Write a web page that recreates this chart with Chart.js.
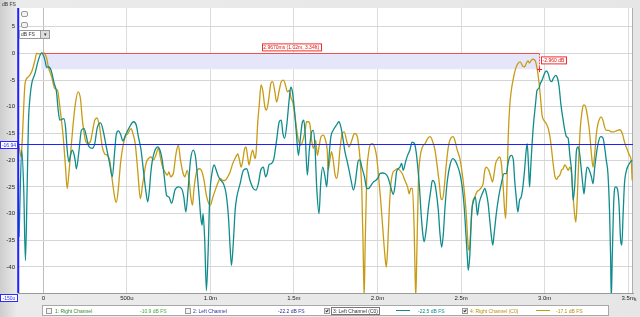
<!DOCTYPE html>
<html>
<head>
<meta charset="UTF-8" />
<title>Impulse Response</title>
<script src="https://cdn.jsdelivr.net/npm/chart.js"></script>
<style>
  body { margin: 0; background: #e0e0e0; font-family: 'Liberation Sans', sans-serif; }
  #wrap { position: relative; width: 640px; height: 317px; overflow: hidden;
          background: linear-gradient(to right, #cdcdcd 0, #ebebeb 17px, #e6e6e6 100%); }
  #wrap canvas { position: absolute; left: 0; top: 0; }
  .abs { position: absolute; white-space: nowrap; font-size: 5px; line-height: 6px; }
  .box { background: #fff; border: 1px solid #2b2bff; color: #2b2bff; text-align: center; }
  #legend { position: absolute; left: 42px; top: 305px; width: 565px; height: 9px;
            background: #fff; border: 1px solid #a8a8a8; }
  .chk { position: absolute; top: 2px; width: 4px; height: 4px; border: 1px solid #999; background: #f4f4f4; }
  .chk.on::after { content: ''; position: absolute; left: 1px; top: 0; width: 1px; height: 2px;
                   border: solid #333; border-width: 0 1px 1px 0; transform: rotate(40deg); }
  .swatch { position: absolute; top: 4px; width: 14px; height: 1px; }
  .icon { position: absolute; width: 5px; height: 4px; border: 1px solid #999; border-radius: 2px; background: #f2f2f2; }
</style>
</head>
<body>
<div id="wrap">
  <canvas id="irChart" width="640" height="317"></canvas>

  <div class="abs" style="left:2px;top:1px;color:#333">dB FS</div>
  <div class="icon" style="left:21px;top:11px"></div>
  <div class="icon" style="left:21px;top:22px"></div>
  <div class="abs" style="left:19px;top:30px;width:20px;height:7px;background:#fff;border:1px solid #999;color:#333;padding-left:1px;line-height:7px">dB FS</div>
  <div class="abs" style="left:40px;top:30px;width:8px;height:7px;background:#ddd;border:1px solid #999;color:#333;text-align:center;line-height:7px">&#9662;</div>

  <div class="abs box" style="left:0;top:141px;width:16px;height:6px">-16.94</div>
  <div class="abs box" style="left:0;top:294px;width:16px;height:6px">-150u</div>
  <div class="abs" style="left:634px;top:296px;color:#333">s</div>

  <div id="legend">
    <div class="chk" style="left:3px"></div>
    <div class="abs" style="left:12px;top:2px;color:#2e8b2e">1: Right Channel</div>
    <div class="abs" style="left:97px;top:2px;color:#44aa44">-10.9 dB FS</div>
    <div class="chk" style="left:142px"></div>
    <div class="abs" style="left:150px;top:2px;color:#3030a0">2: Left Channel</div>
    <div class="abs" style="left:235px;top:2px;color:#3030a0">-22.2 dB FS</div>
    <div class="chk on" style="left:281px"></div>
    <div class="abs" style="left:288px;top:1px;border:1px solid #777;padding:0 1px;color:#333">3: Left Channel (C0)</div>
    <div class="swatch" style="left:353px;background:#108c8c"></div>
    <div class="abs" style="left:375px;top:2px;color:#108c8c">-22.5 dB FS</div>
    <div class="chk on" style="left:419px"></div>
    <div class="abs" style="left:427px;top:2px;color:#b8900e">4: Right Channel (C0)</div>
    <div class="swatch" style="left:493px;background:#c89b14"></div>
    <div class="abs" style="left:513px;top:2px;color:#b8900e">-17.1 dB FS</div>
  </div>
</div>

<script>
  // time in ms, level in dB FS
  const tealTime = [
    -0.145, -0.129, -0.117, -0.107, -0.097, -0.089, -0.079, -0.069, -0.050, -0.030,
    -0.010, 0.000, 0.010, 0.020, 0.030, 0.046, 0.065, 0.079, 0.089, 0.099,
    0.109, 0.123, 0.133, 0.143, 0.153, 0.163, 0.173, 0.183, 0.192, 0.198,
    0.214, 0.228, 0.244, 0.258, 0.272, 0.292, 0.308, 0.323, 0.343, 0.357,
    0.377, 0.397, 0.413, 0.427, 0.437, 0.450, 0.462, 0.476, 0.492, 0.516,
    0.540, 0.556, 0.569, 0.585, 0.597, 0.613, 0.625, 0.635, 0.643, 0.653,
    0.669, 0.685, 0.698, 0.712, 0.724, 0.738, 0.752, 0.768, 0.788, 0.808,
    0.827, 0.841, 0.853, 0.867, 0.881, 0.897, 0.911, 0.921, 0.933, 0.942,
    0.950, 0.956, 0.966, 0.976, 0.986, 0.996, 1.009, 1.023, 1.035, 1.049,
    1.063, 1.078, 1.094, 1.108, 1.118, 1.126, 1.138, 1.148, 1.158, 1.178,
    1.197, 1.217, 1.237, 1.257, 1.273, 1.287, 1.301, 1.317, 1.330, 1.340,
    1.350, 1.366, 1.380, 1.396, 1.412, 1.424, 1.434, 1.444, 1.457, 1.471,
    1.481, 1.491, 1.501, 1.513, 1.527, 1.537, 1.549, 1.559, 1.567, 1.580,
    1.592, 1.606, 1.616, 1.626, 1.636, 1.650, 1.660, 1.672, 1.686, 1.696,
    1.705, 1.721, 1.735, 1.755, 1.769, 1.781, 1.795, 1.805, 1.817, 1.830,
    1.842, 1.856, 1.866, 1.876, 1.886, 1.896, 1.906, 1.922, 1.936, 1.946,
    1.961, 1.975, 1.989, 2.001, 2.015, 2.029, 2.045, 2.061, 2.074, 2.084,
    2.094, 2.104, 2.114, 2.124, 2.134, 2.144, 2.154, 2.168, 2.180, 2.194,
    2.207, 2.221, 2.231, 2.241, 2.251, 2.261, 2.271, 2.279, 2.291, 2.305,
    2.319, 2.328, 2.340, 2.350, 2.364, 2.374, 2.384, 2.394, 2.404, 2.418,
    2.434, 2.450, 2.463, 2.477, 2.493, 2.507, 2.519, 2.529, 2.539, 2.543,
    2.553, 2.563, 2.576, 2.586, 2.598, 2.608, 2.632, 2.642, 2.652, 2.662,
    2.672, 2.682, 2.690, 2.698, 2.711, 2.725, 2.741, 2.757, 2.771, 2.781,
    2.791, 2.801, 2.813, 2.821, 2.830, 2.840, 2.850, 2.860, 2.870, 2.880,
    2.890, 2.896, 2.904, 2.910, 2.916, 2.924, 2.934, 2.944, 2.955, 2.965,
    2.975, 2.985, 2.999, 3.009, 3.022, 3.032, 3.042, 3.052, 3.066, 3.078,
    3.087, 3.097, 3.111, 3.121, 3.131, 3.141, 3.151, 3.161, 3.171, 3.181,
    3.191, 3.201, 3.210, 3.220, 3.230, 3.236, 3.244, 3.254, 3.264, 3.280,
    3.290, 3.300, 3.310, 3.320, 3.335, 3.349, 3.359, 3.369, 3.379, 3.389,
    3.395, 3.399, 3.405, 3.415, 3.425, 3.435, 3.445, 3.455, 3.462, 3.470,
    3.478, 3.490, 3.502, 3.514, 3.524
  ];
  const tealDb = [
    -34.4, -18.1, -25.6, -38.8, -25.6, -13.1, -8.1, -5.6, -3.8, -1.3,
    0.1, -0.3, -1.3, -2.6, -2.5, -3.1, -5.6, -7.2, -10.6, -12.5,
    -12.4, -12.2, -13.8, -18.1, -20.3, -19.1, -18.1, -18.8, -20.3, -21.6,
    -18.1, -14.4, -14.1, -15.6, -17.4, -17.8, -16.9, -13.9, -13.0, -14.3,
    -17.5, -20.6, -23.1, -18.4, -15.1, -14.5, -15.1, -16.4, -15.3, -13.8,
    -12.8, -13.4, -15.6, -18.1, -21.3, -25.6, -27.8, -25.6, -22.5, -20.0,
    -18.1, -17.5, -18.1, -20.0, -23.1, -26.6, -26.9, -28.1, -25.6, -25.0,
    -25.3, -26.9, -29.7, -25.3, -20.0, -18.1, -19.4, -22.5, -26.9, -30.6,
    -32.2, -30.0, -35.0, -44.4, -37.5, -26.9, -22.5, -20.9, -21.9, -23.1,
    -23.8, -24.4, -26.3, -30.6, -36.3, -39.7, -35.0, -29.4, -26.9, -24.4,
    -21.9, -21.6, -23.8, -25.3, -25.6, -24.4, -21.9, -21.3, -23.1, -22.5,
    -20.9, -20.6, -19.7, -16.3, -12.8, -12.5, -15.0, -15.9, -13.4, -8.8,
    -6.3, -7.2, -10.0, -14.4, -19.1, -16.3, -13.1, -12.5, -15.0, -22.8,
    -18.1, -14.7, -14.4, -17.5, -25.0, -30.0, -24.4, -21.3, -23.1, -25.0,
    -21.3, -15.6, -14.4, -13.4, -12.8, -13.8, -16.3, -18.4, -20.0, -21.9,
    -23.8, -25.6, -24.4, -21.9, -20.0, -20.0, -21.3, -23.1, -25.3, -25.3,
    -24.7, -24.1, -23.8, -23.4, -22.5, -22.4, -22.5, -23.1, -24.4, -25.6,
    -26.4, -25.0, -22.2, -21.6, -21.3, -20.6, -21.9, -20.3, -19.1, -18.1,
    -16.6, -16.9, -18.4, -21.3, -25.0, -30.0, -33.8, -35.3, -33.1, -28.8,
    -25.6, -23.8, -24.1, -25.6, -29.4, -33.8, -36.3, -33.8, -28.8, -23.8,
    -20.9, -19.7, -20.0, -20.9, -22.5, -25.0, -28.8, -33.8, -38.8, -40.6,
    -37.5, -30.0, -27.5, -26.9, -30.3, -28.1, -25.9, -25.3, -26.3, -28.1,
    -31.3, -34.4, -35.9, -33.8, -30.0, -26.9, -24.4, -22.5, -22.5, -20.6,
    -19.4, -19.1, -20.0, -23.8, -26.9, -29.7, -27.5, -26.9, -25.0, -21.9,
    -18.1, -16.9, -21.3, -25.0, -21.9, -17.5, -13.1, -10.0, -6.9, -6.6,
    -5.6, -5.0, -3.8, -3.3, -3.8, -5.0, -5.3, -4.7, -4.1, -4.7,
    -6.3, -9.4, -12.5, -14.4, -15.6, -15.9, -19.1, -21.9, -27.5, -24.4,
    -18.1, -17.5, -18.8, -21.9, -25.0, -26.3, -23.8, -21.3, -21.6, -23.1,
    -24.4, -21.3, -18.8, -16.9, -15.6, -15.8, -17.5, -20.0, -22.5, -30.0,
    -38.1, -46.0, -38.1, -26.9, -25.0, -25.3, -28.1, -35.0, -35.9, -30.0,
    -24.4, -21.9, -20.9, -20.3, -20.0
  ];

  const goldTime = [
    -0.149, -0.141, -0.133, -0.125, -0.119, -0.109, -0.089, -0.069, -0.050, -0.040,
    -0.020, 0.000, 0.010, 0.020, 0.030, 0.050, 0.069, 0.085, 0.099, 0.119,
    0.133, 0.143, 0.153, 0.165, 0.179, 0.192, 0.208, 0.222, 0.234, 0.242,
    0.252, 0.268, 0.284, 0.294, 0.308, 0.321, 0.337, 0.353, 0.367, 0.383,
    0.397, 0.413, 0.427, 0.437, 0.450, 0.462, 0.476, 0.490, 0.506, 0.526,
    0.536, 0.550, 0.565, 0.581, 0.595, 0.615, 0.629, 0.645, 0.659, 0.673,
    0.689, 0.702, 0.714, 0.728, 0.742, 0.752, 0.762, 0.778, 0.794, 0.808,
    0.821, 0.837, 0.847, 0.861, 0.873, 0.883, 0.893, 0.901, 0.917, 0.933,
    0.946, 0.962, 0.976, 0.990, 1.000, 1.015, 1.029, 1.043, 1.059, 1.074,
    1.088, 1.104, 1.118, 1.134, 1.152, 1.164, 1.174, 1.184, 1.194, 1.203,
    1.213, 1.223, 1.231, 1.243, 1.253, 1.267, 1.273, 1.283, 1.293, 1.303,
    1.313, 1.326, 1.336, 1.348, 1.362, 1.372, 1.386, 1.396, 1.412, 1.424,
    1.438, 1.449, 1.461, 1.473, 1.483, 1.493, 1.507, 1.517, 1.527, 1.541,
    1.553, 1.567, 1.576, 1.586, 1.596, 1.606, 1.616, 1.630, 1.640, 1.650,
    1.662, 1.676, 1.689, 1.699, 1.705, 1.715, 1.725, 1.735, 1.745, 1.755,
    1.765, 1.775, 1.789, 1.801, 1.817, 1.830, 1.846, 1.862, 1.876, 1.886,
    1.896, 1.906, 1.914, 1.920, 1.926, 1.936, 1.946, 1.955, 1.969, 1.985,
    1.995, 2.005, 2.019, 2.031, 2.045, 2.053, 2.061, 2.071, 2.080, 2.090,
    2.104, 2.120, 2.134, 2.148, 2.164, 2.180, 2.190, 2.199, 2.209, 2.219,
    2.225, 2.229, 2.235, 2.245, 2.255, 2.269, 2.285, 2.301, 2.315, 2.328,
    2.344, 2.358, 2.370, 2.380, 2.388, 2.398, 2.410, 2.424, 2.438, 2.453,
    2.463, 2.477, 2.493, 2.507, 2.519, 2.531, 2.543, 2.549, 2.559, 2.569,
    2.582, 2.596, 2.608, 2.624, 2.632, 2.642, 2.652, 2.666, 2.678, 2.688,
    2.698, 2.707, 2.721, 2.731, 2.741, 2.751, 2.761, 2.767, 2.775, 2.781,
    2.791, 2.801, 2.815, 2.827, 2.840, 2.854, 2.870, 2.880, 2.890, 2.900,
    2.910, 2.920, 2.932, 2.944, 2.955, 2.965, 2.975, 2.985, 2.995, 3.009,
    3.022, 3.032, 3.042, 3.052, 3.062, 3.072, 3.081, 3.091, 3.101, 3.111,
    3.121, 3.131, 3.141, 3.151, 3.161, 3.171, 3.181, 3.187, 3.195, 3.205,
    3.214, 3.224, 3.232, 3.240, 3.250, 3.260, 3.270, 3.280, 3.290, 3.300,
    3.310, 3.320, 3.330, 3.339, 3.349, 3.359, 3.369, 3.383, 3.399, 3.415,
    3.429, 3.439, 3.449, 3.458, 3.468, 3.478, 3.492, 3.508, 3.518, 3.524
  ];
  const goldDb = [
    -16.9, -18.1, -19.4, -15.6, -11.3, -5.6, -4.4, -3.4, -1.3, 0.0,
    -0.1, 0.1, -0.1, -0.9, -2.5, -4.4, -6.6, -6.9, -10.0, -15.6,
    -21.3, -25.3, -22.5, -18.1, -13.1, -9.4, -7.2, -8.4, -12.5, -14.4,
    -16.3, -16.9, -16.3, -14.7, -12.5, -12.1, -13.8, -17.5, -18.8, -19.1,
    -20.0, -23.8, -26.9, -27.9, -25.0, -20.6, -17.5, -15.6, -15.0, -14.1,
    -15.0, -16.9, -21.9, -27.2, -24.4, -20.6, -19.7, -19.4, -20.0, -19.1,
    -17.8, -19.7, -21.3, -22.2, -22.8, -22.2, -23.1, -22.5, -18.8, -17.2,
    -20.0, -22.5, -23.1, -21.9, -23.8, -26.9, -28.4, -25.6, -22.2, -21.6,
    -21.9, -23.8, -26.6, -28.1, -28.4, -26.9, -25.6, -24.4, -23.4, -23.8,
    -23.8, -23.1, -22.2, -20.6, -19.4, -18.8, -20.0, -21.3, -20.0, -18.1,
    -17.5, -19.4, -20.9, -19.1, -18.1, -19.7, -18.8, -13.1, -9.4, -5.9,
    -6.9, -10.0, -10.6, -8.8, -5.6, -5.3, -7.2, -9.1, -6.9, -5.3,
    -5.0, -5.9, -7.2, -6.9, -8.4, -9.1, -11.9, -14.4, -16.3, -17.2,
    -16.3, -14.4, -12.8, -12.8, -13.4, -16.3, -17.8, -16.3, -19.1, -17.5,
    -15.6, -15.3, -16.3, -18.1, -21.9, -20.0, -18.4, -20.0, -22.5, -23.4,
    -21.9, -18.1, -15.0, -14.7, -16.6, -17.5, -16.3, -15.0, -15.3, -16.9,
    -20.0, -25.6, -36.3, -45.6, -36.3, -22.5, -18.8, -17.2, -16.9, -17.8,
    -19.4, -22.5, -27.5, -32.5, -38.1, -40.0, -36.3, -28.8, -24.4, -22.5,
    -21.9, -21.6, -21.9, -22.5, -23.8, -25.0, -26.3, -25.3, -25.3, -32.5,
    -41.3, -45.6, -38.1, -23.8, -19.4, -17.5, -16.9, -15.9, -15.6, -16.3,
    -18.1, -21.3, -24.4, -27.2, -27.4, -25.6, -21.3, -17.5, -15.9, -15.6,
    -16.3, -18.1, -19.7, -22.5, -25.6, -30.0, -36.3, -36.9, -32.5, -28.1,
    -26.9, -25.9, -25.6, -25.0, -24.4, -21.9, -21.3, -21.9, -23.1, -24.1,
    -22.5, -20.6, -19.7, -19.4, -20.6, -24.4, -29.4, -30.9, -24.4, -16.9,
    -10.0, -6.9, -4.4, -2.8, -1.9, -1.6, -2.4, -2.5, -1.9, -1.4,
    -1.8, -1.3, -1.1, -1.4, -2.8, -5.0, -8.1, -11.6, -12.5, -13.1,
    -14.1, -15.6, -18.1, -20.9, -23.1, -23.6, -23.1, -22.8, -21.9, -21.6,
    -20.9, -21.3, -21.9, -21.3, -22.5, -26.9, -30.6, -31.6, -27.5, -19.4,
    -13.8, -10.9, -9.7, -9.7, -10.6, -12.5, -15.0, -18.8, -21.3, -18.8,
    -15.0, -13.1, -12.2, -11.9, -12.5, -13.8, -14.4, -14.4, -14.7, -14.7,
    -14.5, -14.4, -14.3, -14.5, -15.3, -16.6, -17.8, -19.1, -20.0, -23.8
  ];

  const xTickValues = [0, 0.5, 1.0, 1.5, 2.0, 2.5, 3.0, 3.5];
  const xTickLabels = ['0', '500u', '1.0m', '1.5m', '2.0m', '2.5m', '3.0m', '3.5m'];
  const yTickValues = [5, 0, -5, -10, -15, -20, -25, -30, -35, -40];
  const yTickLabels = ['5', '0', '-5', '-10', '-15', '-20', '-25', '-30', '-35', '-40'];

  const cursorTime = -0.15;
  const cursorDb = -16.94;
  const markerStart = -0.012;
  const markerTime = 2.967;
  const markerDb = -2.96;
  const markerText = '2.9670ms (1.02m, 3.34ft)';
  const markerDbText = '-2.960 dB';

  const TEAL = '#108c8c';
  const GOLD = '#c89b14';

  const overlay = {
    id: 'overlay',
    beforeDraw(chart) {
      const { ctx, chartArea: a } = chart;
      ctx.save();
      ctx.fillStyle = '#ffffff';
      ctx.fillRect(a.left, a.top, a.right - a.left, a.bottom - a.top);
      ctx.restore();
    },
    beforeDatasetsDraw(chart) {
      const { ctx, chartArea: a, scales: { x, y } } = chart;
      const x0 = x.getPixelForValue(markerStart), x1 = x.getPixelForValue(markerTime);
      const y0 = y.getPixelForValue(0), y1 = y.getPixelForValue(markerDb);
      ctx.save();
      ctx.fillStyle = '#e6e6fa';
      ctx.fillRect(x0, y0, x1 - x0, y1 - y0);
      // right frame edge
      ctx.strokeStyle = '#b0b0b0';
      ctx.lineWidth = 1;
      ctx.beginPath();
      ctx.moveTo(Math.round(a.right) - 0.5, a.top);
      ctx.lineTo(Math.round(a.right) - 0.5, a.bottom);
      ctx.stroke();
      ctx.restore();
    },
    afterDatasetsDraw(chart) {
      const { ctx, chartArea: a, scales: { x, y } } = chart;
      const x0 = x.getPixelForValue(0), x1 = x.getPixelForValue(markerTime);
      const y0 = y.getPixelForValue(0), y1 = y.getPixelForValue(markerDb);
      ctx.save();
      // red delta line and marker
      ctx.strokeStyle = '#f05050';
      ctx.lineWidth = 1;
      ctx.beginPath();
      ctx.moveTo(x0, Math.round(y0) + 0.5);
      ctx.lineTo(x1, Math.round(y0) + 0.5);
      ctx.stroke();
      ctx.setLineDash([2, 1]);
      ctx.beginPath();
      ctx.moveTo(Math.round(x1) + 0.5, y0);
      ctx.lineTo(Math.round(x1) + 0.5, y1);
      ctx.stroke();
      ctx.setLineDash([]);
      ctx.strokeStyle = '#ff2020';
      ctx.beginPath();
      ctx.moveTo(x1 - 2, Math.round(y1) + 0.5); ctx.lineTo(x1 + 3, Math.round(y1) + 0.5);
      ctx.moveTo(Math.round(x1) + 0.5, y1 - 2); ctx.lineTo(Math.round(x1) + 0.5, y1 + 3);
      ctx.stroke();

      // red labels
      ctx.font = '5px "Liberation Sans"';
      ctx.textBaseline = 'middle';
      const w1 = ctx.measureText(markerText).width + 3;
      const cx = (x0 + x1) / 2;
      ctx.fillStyle = '#fff';
      ctx.fillRect(cx - w1 / 2, y0 - 10, w1, 7);
      ctx.strokeStyle = '#f03030';
      ctx.strokeRect(Math.round(cx - w1 / 2) + 0.5, y0 - 9.5, Math.round(w1), 7);
      ctx.fillStyle = '#e01010';
      ctx.textAlign = 'center';
      ctx.fillText(markerText, cx, y0 - 6);
      const w2 = ctx.measureText(markerDbText).width + 3;
      ctx.fillStyle = '#fff';
      ctx.fillRect(x1 + 2, y0 + 3, w2, 7);
      ctx.strokeRect(Math.round(x1 + 2) + 0.5, y0 + 3.5, Math.round(w2), 7);
      ctx.fillStyle = '#e01010';
      ctx.textAlign = 'left';
      ctx.fillText(markerDbText, x1 + 3.5, y0 + 7);

      // blue cursor lines
      ctx.strokeStyle = '#2020ff';
      ctx.lineWidth = 1;
      const yc = Math.round(y.getPixelForValue(cursorDb)) + 0.5;
      ctx.beginPath();
      ctx.moveTo(0, yc); ctx.lineTo(a.right, yc);
      ctx.stroke();
      ctx.lineWidth = 2;
      const xc = x.getPixelForValue(cursorTime);
      ctx.beginPath();
      ctx.moveTo(xc, a.top); ctx.lineTo(xc, a.bottom);
      ctx.stroke();
      ctx.restore();
    }
  };

  const toPoints = (ts, vs) => ts.map((t, i) => ({ x: t, y: vs[i] }));

  new Chart(document.getElementById('irChart'), {
    type: 'line',
    data: {
      datasets: [
        { label: '3: Left Channel (C0)', data: toPoints(tealTime, tealDb), borderColor: TEAL,
          borderWidth: 1.3, pointRadius: 0, cubicInterpolationMode: 'monotone', fill: false },
        { label: '4: Right Channel (C0)', data: toPoints(goldTime, goldDb), borderColor: GOLD,
          borderWidth: 1.3, pointRadius: 0, cubicInterpolationMode: 'monotone', fill: false }
      ]
    },
    options: {
      responsive: false,
      animation: false,
      devicePixelRatio: 1,
      layout: { padding: { left: 0, top: 8, right: 7, bottom: 14 } },
      plugins: { legend: { display: false }, tooltip: { enabled: false } },
      scales: {
        x: {
          type: 'linear', min: -0.1514, max: 3.529,
          afterFit: s => { s.height = 10; },
          afterBuildTicks: s => { s.ticks = xTickValues.map(v => ({ value: v })); },
          ticks: { callback: (v, i) => xTickLabels[i], padding: 2, maxRotation: 0, autoSkip: false,
                   color: '#222', font: { family: 'Liberation Sans', size: 6 } },
          grid: { drawTicks: false, color: c => c.tick && c.tick.value === 0 ? '#bdbdbd' : '#dcdcdc' },
          border: { display: true, color: '#9a9a9a' }
        },
        y: {
          min: -44.87, max: 8.5,
          afterFit: s => { s.width = 18; },
          afterBuildTicks: s => { s.ticks = yTickValues.map(v => ({ value: v })); },
          ticks: { callback: (v, i) => yTickLabels[i], padding: 3, autoSkip: false,
                   color: '#222', font: { family: 'Liberation Sans', size: 6 } },
          grid: { drawTicks: false, color: '#d6d6d6' },
          border: { display: false }
        }
      }
    },
    plugins: [overlay]
  });
</script>
</body>
</html>
